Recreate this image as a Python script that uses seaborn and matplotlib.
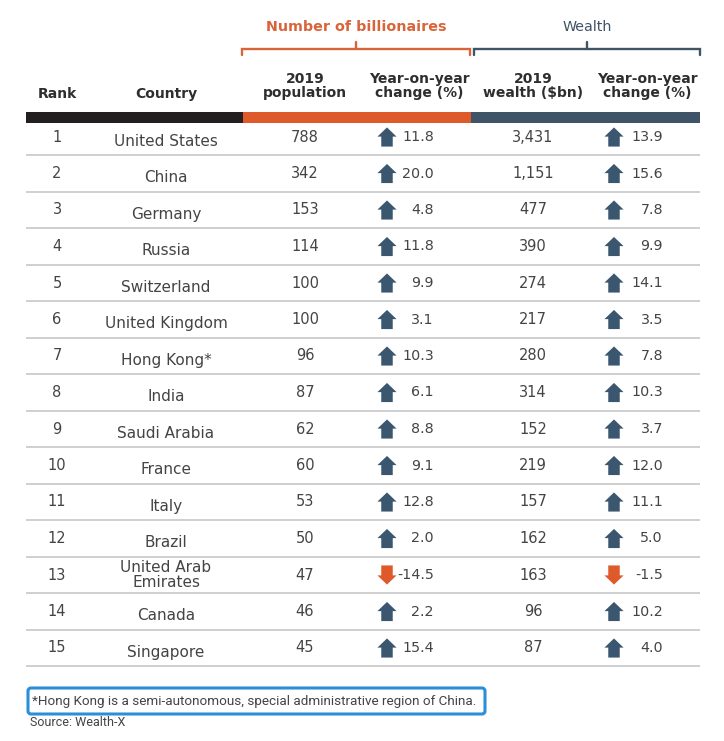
import pandas as pd
import matplotlib.pyplot as plt
import seaborn as sns
from matplotlib.path import Path
from matplotlib.patches import Rectangle, FancyBboxPatch

# table data
ranks = list(range(1, 16))
countries = ['United States', 'China', 'Germany', 'Russia', 'Switzerland',
             'United Kingdom', 'Hong Kong*', 'India', 'Saudi Arabia', 'France',
             'Italy', 'Brazil', 'United Arab\nEmirates', 'Canada', 'Singapore']
population = [788, 342, 153, 114, 100, 100, 96, 87, 62, 60, 53, 50, 47, 46, 45]
pop_change = [11.8, 20.0, 4.8, 11.8, 9.9, 3.1, 10.3, 6.1, 8.8, 9.1, 12.8, 2.0, -14.5, 2.2, 15.4]
wealth = [3431, 1151, 477, 390, 274, 217, 280, 314, 152, 219, 157, 162, 163, 96, 87]
wealth_change = [13.9, 15.6, 7.8, 9.9, 14.1, 3.5, 7.8, 10.3, 3.7, 12.0, 11.1, 5.0, -1.5, 10.2, 4.0]

group_titles = ['Number of billionaires', 'Wealth']
col_headers = ['Rank', 'Country', '2019\npopulation', 'Year-on-year\nchange (%)',
               '2019\nwealth ($bn)', 'Year-on-year\nchange (%)']
footnote = '*Hong Kong is a semi-autonomous, special administrative region of China.'
source = 'Source: Wealth-X'

# colours
ORANGE = '#DF5A2A'
TITLE_ORANGE = '#D9643A'
SLATE = '#3F5467'
ARROW_UP = '#3B5770'
BLACK = '#231F20'
TEXT = '#444444'
FOOT_FONT = ['Roboto', 'DejaVu Sans']

# layout (pixels)
row_top = 137
row_step = 36.5
col_x = [57, 166, 305, 419, 533, 647]
arrow_x = [387, 614]
change_right = [434, 663]
left, right = 26, 700

df = pd.DataFrame({'rank': ranks, 'country': countries, 'population': population,
                   'pop_change': pop_change, 'wealth': wealth,
                   'wealth_change': wealth_change})
df['y'] = row_top + (df['rank'] - 1) * row_step

sns.set_theme(style='white')
plt.rcParams['font.family'] = ['DejaVu Sans']

fig = plt.figure(figsize=(7.24, 7.41), dpi=100)
ax = fig.add_axes([0, 0, 1, 1])

# group titles with brackets
for title, color, (x0, x1) in zip(group_titles, [TITLE_ORANGE, SLATE], [(242, 470), (474, 700)]):
    xm = (x0 + x1) / 2
    ax.text(xm, 27, title, ha='center', va='center', fontsize=10.3, color=color,
            fontweight='bold' if color == TITLE_ORANGE else 'normal')
    ax.plot([x0, x0, x1, x1], [55, 49, 49, 55], color=color, lw=1.7, solid_joinstyle='miter')
    ax.plot([xm, xm], [42, 49], color=color, lw=1.7)

# column headers
for x, label in zip(col_x, col_headers):
    y = 94 if '\n' not in label else 86
    ax.text(x, y, label, ha='center', va='center', fontsize=10, fontweight='bold',
            color='#2E2E2E', linespacing=1.05)

# header bar
for (x0, x1), color in zip([(left, 243), (243, 471), (471, right)], [BLACK, ORANGE, SLATE]):
    ax.add_patch(Rectangle((x0, 112), x1 - x0, 11, color=color, lw=0))

# row separators
ax.hlines(df['y'] + row_step / 2, left, right, color='#C2C2C2', lw=1.1)

# row text
for _, r in df.iterrows():
    y = r['y']
    ax.text(col_x[0], y, str(r['rank']), ha='center', va='center', fontsize=10.5, color=TEXT)
    ax.text(col_x[1], y + (0 if '\n' in r['country'] else 4), r['country'], ha='center',
            va='center', fontsize=11, color=TEXT, linespacing=1.05)
    ax.text(col_x[2], y, str(r['population']), ha='center', va='center', fontsize=10.5, color=TEXT)
    ax.text(change_right[0], y, f"{r['pop_change']:.1f}", ha='right', va='center', fontsize=10.3, color=TEXT)
    ax.text(col_x[4], y, f"{r['wealth']:,}", ha='center', va='center', fontsize=10.5, color=TEXT)
    ax.text(change_right[1], y, f"{r['wealth_change']:.1f}", ha='right', va='center', fontsize=10.3, color=TEXT)

# arrow markers
up_arrow = Path([(-0.3, -0.5), (0.3, -0.5), (0.3, 0.02), (0.5, 0.02), (0.0, 0.5),
                 (-0.5, 0.02), (-0.3, 0.02), (-0.3, -0.5)], closed=True)
down_arrow = Path([(x, -y) for x, y in up_arrow.vertices], closed=True)

arrows = pd.concat([
    pd.DataFrame({'x': arrow_x[0], 'y': df['y'], 'change': df['pop_change']}),
    pd.DataFrame({'x': arrow_x[1], 'y': df['y'], 'change': df['wealth_change']}),
])
for is_up, marker, color in [(True, up_arrow, ARROW_UP), (False, down_arrow, ORANGE)]:
    sub = arrows[(arrows['change'] >= 0) == is_up]
    sns.scatterplot(data=sub, x='x', y='y', marker=marker, s=190, color=color,
                    edgecolor='none', linewidth=0, ax=ax, legend=False)

ax.set_xlim(0, 724)
ax.set_ylim(741, 0)
ax.axis('off')

# footnote
ax.add_patch(FancyBboxPatch((28, 688), 457, 26, boxstyle='round,pad=0,rounding_size=3',
                            fill=False, edgecolor='#2B8FD8', lw=2.2))
ax.text(32, 701, footnote, ha='left', va='center', fontsize=9.7, color=TEXT, family=FOOT_FONT)
ax.text(30, 723, source, ha='left', va='center', fontsize=9, color=TEXT, family=FOOT_FONT)

plt.savefig('out.png', dpi=100)
